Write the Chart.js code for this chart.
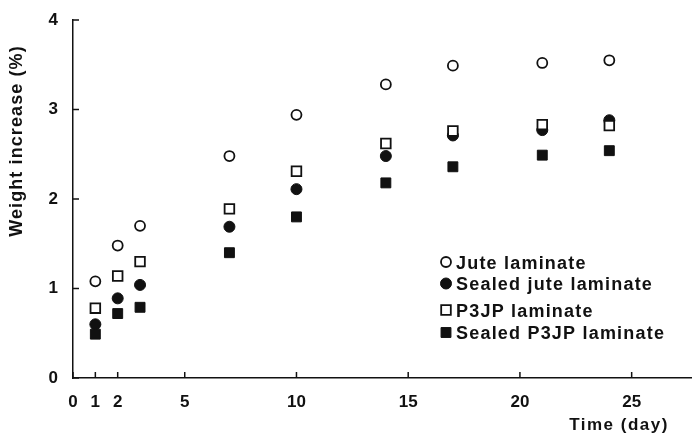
<!DOCTYPE html>
<html lang="en">
<head>
    <meta charset="UTF-8">
    <title>Weight increase vs time</title>
    <script src="https://cdn.jsdelivr.net/npm/chart.js"></script>
    <style>
        body {
            margin: 0;
            background-color: #fff;
        }

        #chartBox {
            width: 692px;
            height: 434px;
        }
    </style>
</head>
<body>
    <div id="chartBox">
        <canvas id="weightChart"></canvas>
    </div>

    <script>
        // values
        const days = [1, 2, 3, 7, 10, 14, 17, 21, 24];
        const juteLaminate = [1.08, 1.48, 1.70, 2.48, 2.94, 3.28, 3.49, 3.52, 3.55];
        const sealedJuteLaminate = [0.60, 0.89, 1.04, 1.69, 2.11, 2.48, 2.71, 2.77, 2.88];
        const p3jpLaminate = [0.78, 1.14, 1.30, 1.89, 2.31, 2.62, 2.76, 2.83, 2.82];
        const sealedP3jpLaminate = [0.49, 0.72, 0.79, 1.40, 1.80, 2.18, 2.36, 2.49, 2.54];

        const xTicks = [0, 1, 2, 5, 10, 15, 20, 25];
        const yTicks = [0, 1, 2, 3, 4];

        const fontFamily = '"Liberation Sans", Arial, Helvetica, sans-serif';
        const ink = '#111';

        function toPoints(values) {
            return days.map((d, i) => ({ x: d, y: values[i] }));
        }

        // legend rows (marker centre y)
        const legendRows = [
            { ds: 0, y: 262 },
            { ds: 1, y: 283.5 },
            { ds: 2, y: 310 },
            { ds: 3, y: 332.5 },
        ];

        const decorPlugin = {
            id: 'decor',
            afterDraw(chart) {
                const ctx = chart.ctx;
                const xs = chart.scales.x;
                const ys = chart.scales.y;
                const area = chart.chartArea;

                ctx.save();
                ctx.strokeStyle = ink;
                ctx.lineWidth = 1.5;

                // inward tick marks
                xs.ticks.forEach(t => {
                    const px = xs.getPixelForValue(t.value);
                    ctx.beginPath();
                    ctx.moveTo(px, area.bottom);
                    ctx.lineTo(px, area.bottom - 6);
                    ctx.stroke();
                });
                ys.ticks.forEach(t => {
                    const py = ys.getPixelForValue(t.value);
                    ctx.beginPath();
                    ctx.moveTo(area.left, py);
                    ctx.lineTo(area.left + 6, py);
                    ctx.stroke();
                });

                // axis titles
                ctx.fillStyle = ink;
                ctx.font = 'bold 17px ' + fontFamily;
                ctx.letterSpacing = '1.5px';
                ctx.textAlign = 'center';
                ctx.textBaseline = 'alphabetic';
                ctx.fillText('Time (day)', 619, 430);

                ctx.save();
                ctx.translate(17, 141);
                ctx.rotate(-Math.PI / 2);
                ctx.font = 'bold 18px ' + fontFamily;
                ctx.letterSpacing = '1.1px';
                ctx.textBaseline = 'middle';
                ctx.fillText('Weight increase (%)', 0, 0);
                ctx.restore();

                // legend
                ctx.font = 'bold 18px ' + fontFamily;
                ctx.letterSpacing = '1.2px';
                ctx.textAlign = 'left';
                ctx.textBaseline = 'alphabetic';
                legendRows.forEach(row => {
                    const ds = chart.data.datasets[row.ds];
                    ctx.save();
                    ctx.fillStyle = ds.backgroundColor;
                    ctx.strokeStyle = ds.borderColor;
                    ctx.lineWidth = ds.borderWidth;
                    Chart.helpers.drawPoint(ctx, {
                        pointStyle: ds.pointStyle,
                        radius: ds.pointRadius,
                        borderWidth: ds.borderWidth,
                        rotation: 0,
                    }, 446, row.y);
                    ctx.restore();
                    ctx.fillText(ds.label, 456, row.y + 6.5);
                });
                ctx.restore();
            }
        };

        const ctx = document.getElementById('weightChart').getContext('2d');

        new Chart(ctx, {
            type: 'scatter',
            data: {
                datasets: [
                    {
                        label: 'Jute laminate',
                        data: toPoints(juteLaminate),
                        pointStyle: 'circle',
                        pointRadius: 5,
                        borderWidth: 1.8,
                        borderColor: ink,
                        backgroundColor: '#fff',
                    },
                    {
                        label: 'Sealed jute laminate',
                        data: toPoints(sealedJuteLaminate),
                        pointStyle: 'circle',
                        pointRadius: 5.5,
                        borderWidth: 1,
                        borderColor: ink,
                        backgroundColor: ink,
                    },
                    {
                        label: 'P3JP laminate',
                        data: toPoints(p3jpLaminate),
                        pointStyle: 'rect',
                        pointRadius: 6.8,
                        borderWidth: 1.8,
                        borderColor: ink,
                        backgroundColor: '#fff',
                        order: -1,
                    },
                    {
                        label: 'Sealed P3JP laminate',
                        data: toPoints(sealedP3jpLaminate),
                        pointStyle: 'rect',
                        pointRadius: 7,
                        borderWidth: 1,
                        borderColor: ink,
                        backgroundColor: ink,
                    },
                ],
            },
            options: {
                responsive: true,
                maintainAspectRatio: false,
                animation: false,
                events: [],
                layout: {
                    autoPadding: false,
                    padding: { top: 20, right: 0, bottom: 0, left: 0 },
                },
                plugins: {
                    legend: { display: false },
                    tooltip: { enabled: false },
                },
                scales: {
                    x: {
                        type: 'linear',
                        min: 0,
                        max: 27.7,
                        afterBuildTicks: scale => {
                            scale.ticks = xTicks.map(v => ({ value: v }));
                        },
                        afterFit: scale => {
                            scale.height = 56;
                            scale.paddingLeft = 0;
                            scale.paddingRight = 0;
                        },
                        grid: { display: false },
                        border: { color: ink, width: 1.5 },
                        ticks: {
                            color: ink,
                            padding: 6,
                            maxRotation: 0,
                            autoSkip: false,
                            font: { family: fontFamily, size: 17, weight: 'bold' },
                        },
                    },
                    y: {
                        min: 0,
                        max: 4,
                        afterBuildTicks: scale => {
                            scale.ticks = yTicks.map(v => ({ value: v }));
                        },
                        afterFit: scale => {
                            scale.width = 73;
                        },
                        grid: { display: false },
                        border: { color: ink, width: 1.5 },
                        ticks: {
                            color: ink,
                            padding: 7,
                            font: { family: fontFamily, size: 17, weight: 'bold' },
                        },
                    },
                },
            },
            plugins: [decorPlugin],
        });
    </script>
</body>
</html>
